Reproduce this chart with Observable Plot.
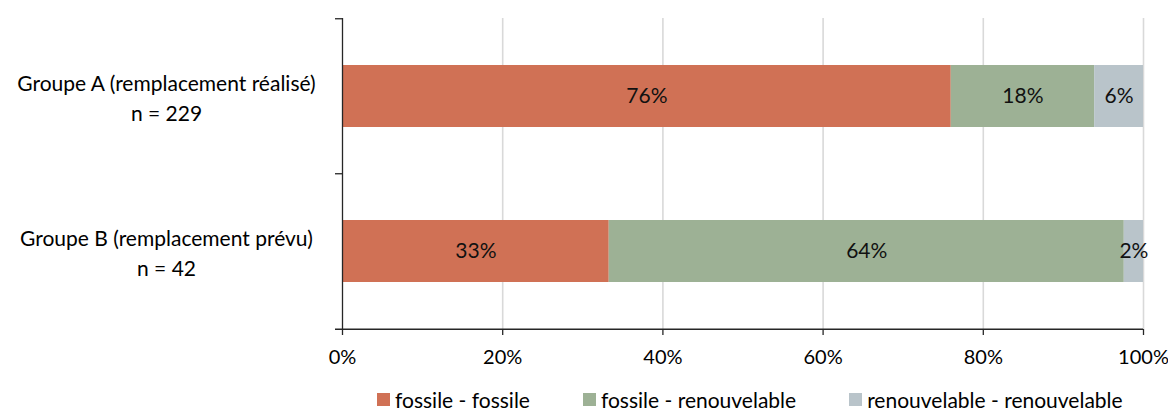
<!DOCTYPE html>
<html>
<head>
<meta charset="utf-8">
<script src="https://cdn.jsdelivr.net/npm/d3@7"></script>
<script src="https://cdn.jsdelivr.net/npm/@observablehq/plot@0.6"></script>
<style>
  body { margin: 0; background: #fff; font-family: Lato, sans-serif; }
  #chart { width: 1168px; height: 410px; overflow: hidden; }
  #chart svg.plot { display: block; }
  .lg-swatches { margin: 0 0 0 377px !important; min-height: 0 !important; height: 38px; line-height: 21px; align-items: center; white-space: nowrap; flex-wrap: nowrap !important; }
  .lg-swatch { margin-right: 53px !important; }
  .lg-swatch > svg { margin-right: 5px !important; }
</style>
</head>
<body>
<div id="chart"></div>
<script>
// Type of heating replacement (before - after), share of households per group
const groups = ["Groupe A (remplacement réalisé)", "Groupe B (remplacement prévu)"];
const counts = [229, 42];
const categories = ["fossile - fossile", "fossile - renouvelable", "renouvelable - renouvelable"];
const sharesA = [0.760, 0.179, 0.061];
const sharesB = [0.333, 0.643, 0.024];
const xTicks = [0, 0.2, 0.4, 0.6, 0.8, 1];
const colors = ["#d07155", "#9db195", "#b9c4ca"];

const shares = [sharesA, sharesB];
const rows = groups.flatMap((g, i) =>
  categories.map((c, j) => ({group: g, cat: c, share: shares[i][j]}))
);

const W = 1168, H = 380;
const mTop = 18, mBottom = 51, mLeft = 342, mRight = 25;
const half = (H - mTop - mBottom) / groups.length / 2; // half a category step
const pct = d3.format(".0%");
const axisColor = "#262626";
const fs = 21;

const plot = Plot.plot({
  width: W,
  height: H,
  marginTop: mTop,
  marginBottom: mBottom,
  marginLeft: mLeft,
  marginRight: mRight,
  style: {fontFamily: "Lato, sans-serif", fontSize: `${fs}px`, color: "#000", background: "#fff", overflow: "visible"},
  x: {domain: [0, 1], axis: null},
  y: {domain: groups, paddingInner: 0.6, paddingOuter: 0.3, axis: null},
  color: {domain: categories, range: colors},
  marks: [
    Plot.gridX(xTicks.slice(1), {stroke: "#d9d9d9", strokeOpacity: 1, strokeWidth: 1.6}),
    Plot.barX(rows, Plot.stackX({x: "share", y: "group", fill: "cat"})),
    Plot.text(rows, Plot.stackX({
      x: "share", y: "group", z: "cat",
      text: d => pct(d.share), fill: "#111", fontSize: fs
    })),
    // vertical category axis with ticks between categories
    Plot.ruleX([0], {stroke: axisColor, strokeWidth: 1.3}),
    Plot.ruleY(groups, {y: d => d, dy: -half, x1: 0, x2: 0, insetLeft: -7, stroke: axisColor, strokeWidth: 1.3}),
    Plot.ruleY(groups.slice(-1), {y: d => d, dy: half, x1: 0, x2: 1, insetLeft: -7, stroke: axisColor, strokeWidth: 1.3}),
    Plot.axisX(xTicks, {
      tickSize: 6, tickPadding: 14, tickFormat: pct, label: null,
      stroke: axisColor, strokeWidth: 1.3, fill: "#000", fontSize: 20
    }),
    // two-line category labels
    Plot.text(groups, {
      y: d => d,
      text: (d, i) => `${d}\nn = ${counts[i]}`,
      frameAnchor: "left", dx: -176, textAnchor: "middle",
      lineHeight: 1.4, fontSize: fs, fill: "#000"
    })
  ]
});

const chart = document.getElementById("chart");
chart.appendChild(plot);
chart.appendChild(plot.legend("color", {
  className: "lg",
  swatchSize: 13,
  style: {fontFamily: "Lato, sans-serif", fontSize: `${fs}px`, color: "#000"}
}));
</script>
</body>
</html>
